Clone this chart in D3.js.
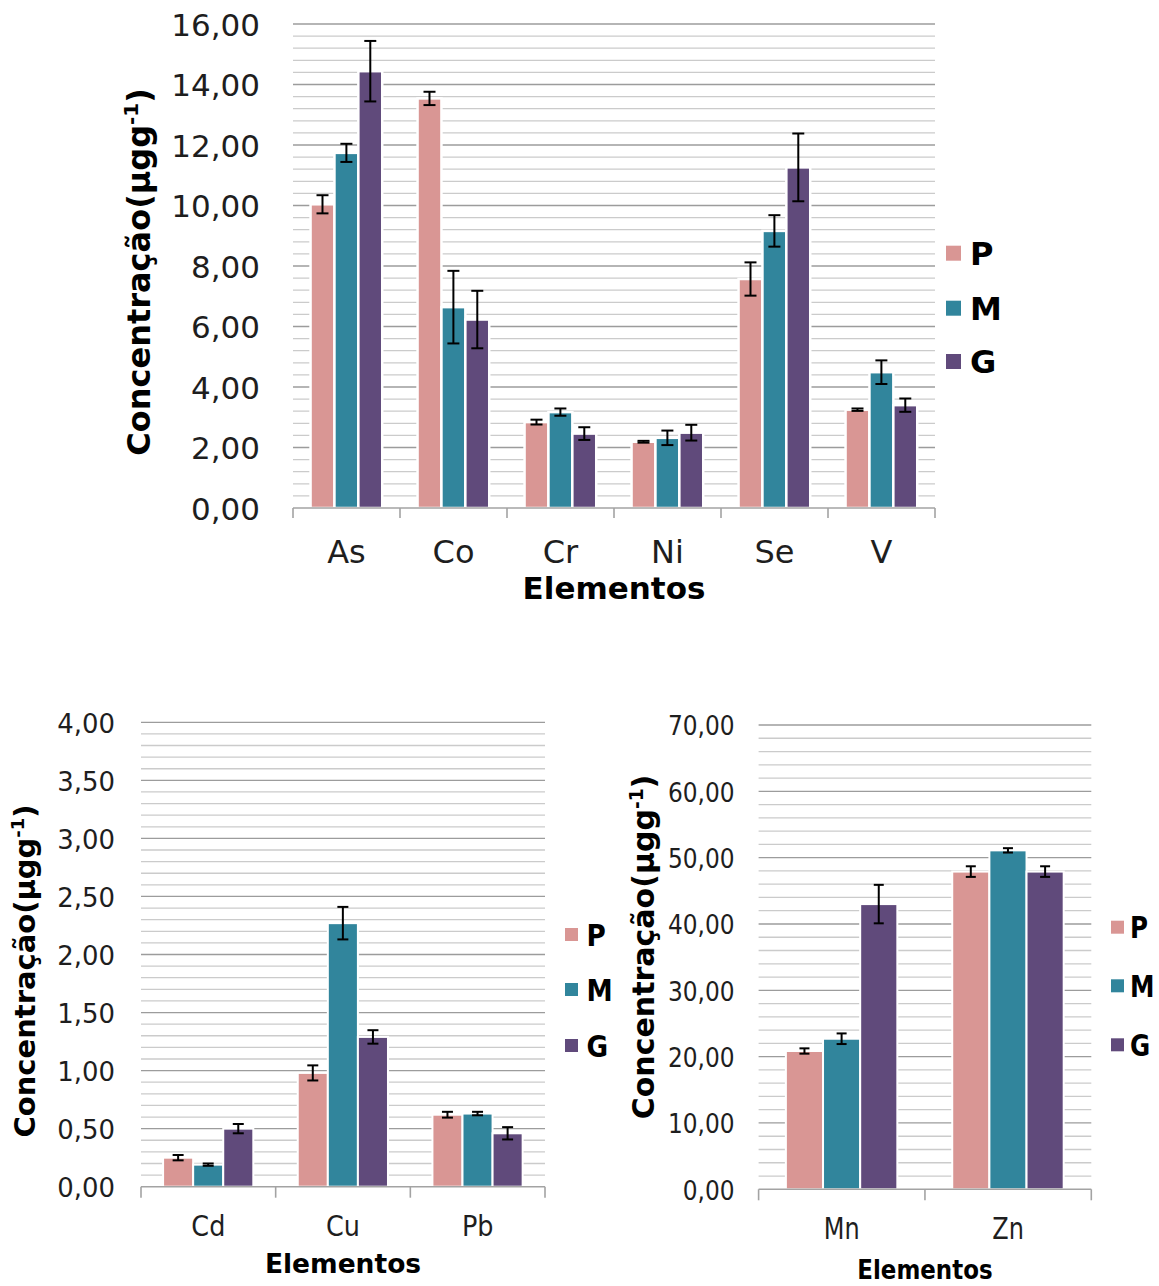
<!DOCTYPE html>
<html><head><meta charset="utf-8">
<script src="https://cdn.jsdelivr.net/npm/d3@7"></script>
<style>body{margin:0;background:#fff} svg{display:block}</style>
</head><body><svg id="c" width="1159" height="1286"></svg>
<script>
// ---------- DATA ----------
const series = ["P","M","G"];
const colors = ["#D99694","#31859C","#604A7B"];

const topCats = ["As","Co","Cr","Ni","Se","V"];
const topP = [10.04,13.54,2.84,2.19,7.57,3.25];
const topM = [11.74,6.64,3.17,2.32,9.16,4.49];
const topG = [14.44,6.23,2.46,2.49,11.26,3.40];
const topPerr = [0.30,0.22,0.08,0.03,0.55,0.04];
const topMerr = [0.30,1.20,0.12,0.24,0.52,0.39];
const topGerr = [1.00,0.95,0.21,0.26,1.12,0.22];
const topTicks = [0,2,4,6,8,10,12,14,16];

const blCats = ["Cd","Cu","Pb"];
const blP = [0.25,0.98,0.62];
const blM = [0.19,2.27,0.63];
const blG = [0.50,1.29,0.46];
const blPerr = [0.023,0.065,0.025];
const blMerr = [0.010,0.140,0.015];
const blGerr = [0.040,0.058,0.053];
const blTicks = [0,0.5,1,1.5,2,2.5,3,3.5,4];

const brCats = ["Mn","Zn"];
const brP = [20.85,47.9];
const brM = [22.7,51.1];
const brG = [43.0,47.9];
const brPerr = [0.4,0.8];
const brMerr = [0.8,0.33];
const brGerr = [2.9,0.8];
const brTicks = [0,10,20,30,40,50,60,70];

const xTitle = "Elementos";
const yTitleMain = "Concentração(µgg";
const yTitleSup = "-1";
const yTitleEnd = ")";

// ---------- RENDER ----------
const svg = d3.select("#c");
svg.append("rect").attr("width",1159).attr("height",1286).attr("fill","#fff");
const FONT = "'DejaVu Sans', Verdana, sans-serif";
const fmt = d3.formatLocale({decimal:",",thousands:".",grouping:[3],currency:["",""]}).format(".2f");

function txt(g, x, y, s, o) {
  const t = g.append("text")
    .attr("transform", `translate(${x},${y})` + (o.rot ? ` rotate(${o.rot})` : "") + ` scale(${o.sx||1},1)`)
    .attr("font-family", FONT).attr("font-size", o.size)
    .attr("font-weight", o.weight || "normal")
    .attr("text-anchor", o.anchor || "start")
    .attr("fill", o.fill || "#000");
  if (o.dy) t.attr("dy", o.dy);
  t.text(s);
  return t;
}

function drawChart(c) {
  const g = svg.append("g");
  const x0 = d3.scaleBand().domain(c.cats).range([c.left, c.right]).padding(0);
  const bw = x0.bandwidth();
  const x1 = d3.scaleBand().domain(series).range([bw*0.164, bw*0.834]).padding(0);
  const y = d3.scaleLinear().domain([0, c.max]).range([c.y0, c.y1]);

  // gridlines
  const minor = d3.range(0, c.max + c.minor/2, c.minor)
    .filter(v => v > 1e-9 && !c.ticks.some(t => Math.abs(t - v) < 1e-6));
  g.append("g").selectAll("line").data(minor).join("line")
    .attr("x1", c.left).attr("x2", c.right)
    .attr("y1", d => y(d)).attr("y2", d => y(d))
    .attr("stroke", "#cbcbcb").attr("stroke-width", 1.3);
  g.append("g").selectAll("line").data(c.ticks.filter(v => v > 0)).join("line")
    .attr("x1", c.left).attr("x2", c.right)
    .attr("y1", d => y(d)).attr("y2", d => y(d))
    .attr("stroke", "#9c9c9c").attr("stroke-width", 1.3);

  // bars
  const rows = c.cats.map((cat, i) => ({
    cat, vals: [c.P[i], c.M[i], c.G[i]], errs: [c.Pe[i], c.Me[i], c.Ge[i]]
  }));
  const grp = g.append("g").selectAll("g").data(rows).join("g")
    .attr("transform", d => `translate(${x0(d.cat)},0)`);
  grp.selectAll("rect").data(d => d.vals.map((v, k) => ({s: series[k], v, k}))).join("rect")
    .attr("x", d => x1(d.s)).attr("width", x1.bandwidth())
    .attr("y", d => y(d.v)).attr("height", d => y(0) - y(d.v))
    .attr("fill", d => colors[d.k]).attr("stroke", "#fff").attr("stroke-width", c.barStroke);

  // error bars
  const eb = grp.selectAll("g.eb").data(d => d.vals.map((v, k) => ({s: series[k], v, e: d.errs[k]}))).join("g")
    .attr("class", "eb")
    .attr("transform", d => `translate(${x1(d.s) + x1.bandwidth()/2},0)`);
  eb.append("line").attr("x1",0).attr("x2",0)
    .attr("y1", d => y(d.v + d.e)).attr("y2", d => y(d.v - d.e))
    .attr("stroke","#000").attr("stroke-width",2);
  eb.append("line").attr("x1",-c.capW/2).attr("x2",c.capW/2)
    .attr("y1", d => y(d.v + d.e)).attr("y2", d => y(d.v + d.e))
    .attr("stroke","#000").attr("stroke-width",2);
  eb.append("line").attr("x1",-c.capW/2).attr("x2",c.capW/2)
    .attr("y1", d => y(d.v - d.e)).attr("y2", d => y(d.v - d.e))
    .attr("stroke","#000").attr("stroke-width",2);

  // x axis line + boundary ticks
  g.append("line").attr("x1", c.left).attr("x2", c.right)
    .attr("y1", y(0)).attr("y2", y(0)).attr("stroke", "#a3a3a3").attr("stroke-width", 1.6);
  const bounds = c.cats.map(k => x0(k)).concat([c.right]);
  g.append("g").selectAll("line").data(bounds).join("line")
    .attr("x1", d => d).attr("x2", d => d)
    .attr("y1", y(0)).attr("y2", y(0) + c.tickLen)
    .attr("stroke", "#a3a3a3").attr("stroke-width", 1.6);

  // y axis labels
  const ya = g.append("g").attr("transform", `translate(${c.left},0)`)
    .call(d3.axisLeft(y).tickValues(c.ticks).tickFormat(fmt).tickSize(0));
  ya.select(".domain").remove();
  ya.selectAll("text").attr("x", null).attr("dy", "0.36em")
    .attr("transform", `translate(${-c.tickGap},0) scale(${c.tickSx},1)`)
    .attr("font-family", FONT).attr("font-size", c.tickFont).attr("fill", "#1e1e1e")
    .attr("text-anchor", "end");

  // x axis labels
  const xa = g.append("g").attr("transform", `translate(0,${c.catBase})`)
    .call(d3.axisBottom(x0).tickSize(0));
  xa.select(".domain").remove();
  xa.selectAll("text").attr("y", null).attr("dy", null)
    .attr("transform", `scale(${c.catSx},1)`)
    .attr("font-family", FONT).attr("font-size", c.catFont).attr("fill", "#1e1e1e");

  // x title
  txt(g, (c.left + c.right)/2, c.xtBase, xTitle,
      {size: c.xtSize, weight: "bold", anchor: "middle", sx: c.xtSx});

  // y title
  const yt = txt(g, c.ytX, c.ytY, "", {size: c.ytSize, weight: "bold", anchor: "middle", rot: -90});
  yt.append("tspan").text(yTitleMain);
  yt.append("tspan").attr("font-size", c.ytSize*0.62).attr("dy", -c.ytSize*0.38).text(yTitleSup);
  yt.append("tspan").attr("dy", c.ytSize*0.38).text(yTitleEnd);

  // legend
  const lg = g.append("g").selectAll("g").data(series).join("g")
    .attr("transform", (d, i) => `translate(${c.lgX},${c.lgY[i]})`);
  lg.append("rect").attr("width", c.lgSq).attr("height", c.lgSq)
    .attr("fill", (d, i) => colors[i]);
  lg.each(function(d) {
    txt(d3.select(this), c.lgLabX - c.lgX, c.lgSq/2, d,
        {size: c.lgFont, weight: "bold", sx: c.lgSx, dy: "0.36em"});
  });
}

drawChart({
  cats: topCats, P: topP, M: topM, G: topG, Pe: topPerr, Me: topMerr, Ge: topGerr,
  ticks: topTicks, max: 16, minor: 0.4,
  left: 293, right: 935, y0: 508, y1: 24,
  barStroke: 2.5, capW: 12, tickLen: 10,
  tickFont: 31, tickGap: 33, tickSx: 1,
  catFont: 32, catSx: 1, catBase: 563,
  xtSize: 31, xtSx: 1, xtBase: 599,
  ytSize: 32, ytX: 150, ytY: 272,
  lgX: 946, lgY: [245.7, 300.7, 354], lgSq: 15, lgLabX: 970, lgFont: 32, lgSx: 1
});

drawChart({
  cats: blCats, P: blP, M: blM, G: blG, Pe: blPerr, Me: blMerr, Ge: blGerr,
  ticks: blTicks, max: 4, minor: 0.1,
  left: 141, right: 545, y0: 1186.7, y1: 722.3,
  barStroke: 2, capW: 11, tickLen: 11,
  tickFont: 27, tickGap: 26, tickSx: 0.96,
  catFont: 29, catSx: 0.88, catBase: 1236,
  xtSize: 26.5, xtSx: 1, xtBase: 1273,
  ytSize: 29, ytX: 35, ytY: 971,
  lgX: 565, lgY: [928, 983, 1039], lgSq: 13, lgLabX: 586.5, lgFont: 31, lgSx: 0.85
});

drawChart({
  cats: brCats, P: brP, M: brM, G: brG, Pe: brPerr, Me: brMerr, Ge: brGerr,
  ticks: brTicks, max: 70, minor: 2,
  left: 758.6, right: 1091.3, y0: 1189.3, y1: 725,
  barStroke: 2, capW: 10, tickLen: 11,
  tickFont: 27.4, tickGap: 24, tickSx: 0.85,
  catFont: 30, catSx: 0.8, catBase: 1239,
  xtSize: 27, xtSx: 0.85, xtBase: 1279,
  ytSize: 30, ytX: 654, ytY: 947,
  lgX: 1111, lgY: [920.7, 979.3, 1038.3], lgSq: 13, lgLabX: 1130, lgFont: 30, lgSx: 0.82
});
</script></body></html>
